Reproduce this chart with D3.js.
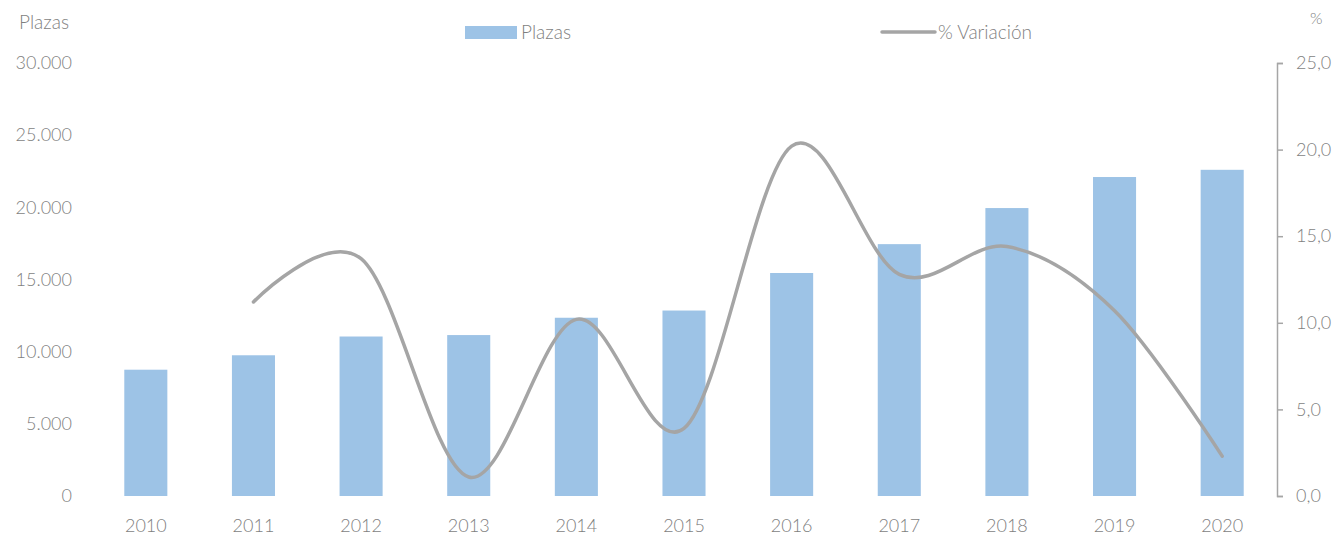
<!DOCTYPE html>
<html>
<head>
<meta charset="utf-8">
<script src="https://cdn.jsdelivr.net/npm/d3@7"></script>
<style>
  body { margin: 0; background: #fff; }
  text { font-family: Lato, "Open Sans", sans-serif; font-weight: 300; fill: #7f7f7f; }
</style>
</head>
<body>
<svg id="chart" width="1336" height="536"></svg>
<script>
var years = ["2010", "2011", "2012", "2013", "2014", "2015", "2016", "2017", "2018", "2019", "2020"];
var plazas = [8750, 9750, 11050, 11150, 12350, 12850, 15450, 17450, 19950, 22100, 22600];
var variacion = [null, 11.2, 13.7, 1.1, 10.2, 3.9, 20.2, 12.8, 14.4, 10.7, 2.3];
var leftTicks = [0, 5000, 10000, 15000, 20000, 25000, 30000];
var rightTicks = [0, 5, 10, 15, 20, 25];

var svg = d3.select("#chart");
var fmtLeft = d3.formatLocale({ decimal: ",", thousands: ".", grouping: [3] }).format(",.0f");
var fmtRight = function(d) { return d3.format(".1f")(d).replace(".", ","); };

var x = d3.scaleBand().domain(years).range([92, 1276]).paddingInner(0.6).paddingOuter(0.3);
var yL = d3.scaleLinear().domain([0, 30000]).range([496, 63]);
var yR = d3.scaleLinear().domain([0, 25]).range([496, 63]);

// bars
svg.append("g").selectAll("rect")
  .data(years)
  .enter().append("rect")
    .attr("x", function(d) { return x(d); })
    .attr("y", function(d, i) { return yL(plazas[i]); })
    .attr("width", x.bandwidth())
    .attr("height", function(d, i) { return yL(0) - yL(plazas[i]); })
    .attr("fill", "#9dc3e6");

// line
var pts = years.map(function(d, i) { return { year: d, v: variacion[i] }; })
  .filter(function(p) { return p.v !== null; });
var line = d3.line()
  .x(function(p) { return x(p.year) + x.bandwidth() / 2; })
  .y(function(p) { return yR(p.v); })
  .curve(d3.curveCardinal.tension(0));
svg.append("path")
  .datum(pts)
  .attr("d", line)
  .attr("fill", "none")
  .attr("stroke", "#a5a5a5")
  .attr("stroke-width", 3.5)
  .attr("stroke-linecap", "round");

// left axis (labels only)
var gL = svg.append("g").attr("transform", "translate(72,0)")
  .call(d3.axisLeft(yL).tickValues(leftTicks).tickFormat(fmtLeft).tickSize(0).tickPadding(0));
gL.select(".domain").remove();
gL.selectAll("text").style("font-size", "18px").attr("fill", null);

// right axis
var gR = svg.append("g").attr("transform", "translate(1277,0)")
  .call(d3.axisRight(yR).tickValues(rightTicks).tickFormat(fmtRight).tickSize(6).tickSizeOuter(6).tickPadding(13));
gR.select(".domain").attr("stroke", "#a6a6a6").attr("stroke-width", 1.5);
gR.selectAll(".tick line").attr("stroke", "#a6a6a6").attr("stroke-width", 1.5);
gR.selectAll("text").style("font-size", "18px").attr("fill", null);

// x axis labels
var gX = svg.append("g").attr("transform", "translate(0,515)")
  .call(d3.axisBottom(x).tickSize(0).tickPadding(4));
gX.select(".domain").remove();
gX.selectAll("text").style("font-size", "18px").attr("fill", null);

// axis titles
svg.append("text").attr("x", 19).attr("y", 29).style("font-size", "19px").text("Plazas");
svg.append("text").attr("x", 1310).attr("y", 24).style("font-size", "16px").text("%");

// legend
svg.append("rect").attr("x", 465).attr("y", 26).attr("width", 52).attr("height", 13).attr("fill", "#9dc3e6");
svg.append("text").attr("x", 521).attr("y", 39).style("font-size", "19px").text("Plazas");
svg.append("line").attr("x1", 882).attr("x2", 935).attr("y1", 32).attr("y2", 32)
  .attr("stroke", "#a5a5a5").attr("stroke-width", 3.5).attr("stroke-linecap", "round");
svg.append("text").attr("x", 938).attr("y", 39).style("font-size", "19px").text("% Variación");
</script>
</body>
</html>
